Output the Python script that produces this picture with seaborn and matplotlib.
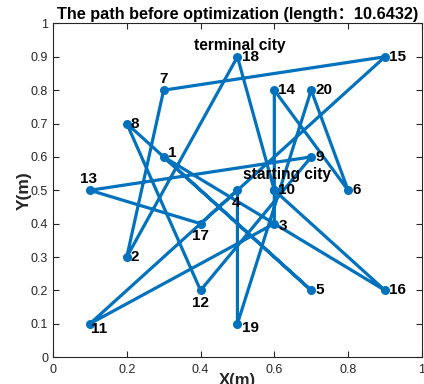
import numpy as np
import pandas as pd
import seaborn as sns
import matplotlib
matplotlib.use("Agg")
import matplotlib.pyplot as plt

# city coordinates (city number = index + 1)
city_x = [0.3, 0.2, 0.6, 0.5, 0.7, 0.8, 0.3, 0.2, 0.7, 0.6,
          0.1, 0.4, 0.1, 0.6, 0.9, 0.9, 0.4, 0.5, 0.5, 0.7]
city_y = [0.6, 0.3, 0.4, 0.5, 0.2, 0.5, 0.8, 0.7, 0.6, 0.5,
          0.1, 0.2, 0.5, 0.8, 0.9, 0.2, 0.4, 0.9, 0.1, 0.8]

# visiting order before optimization (closed tour)
route = [10, 16, 1, 5, 8, 12, 9, 13, 17, 4, 19, 20, 6, 14, 3, 11, 15, 7, 2, 18]
start_city = 10
end_city = 18
path_length = 10.6432

x_ticks = [0, 0.2, 0.4, 0.6, 0.8, 1]
y_ticks = [0, 0.1, 0.2, 0.3, 0.4, 0.5, 0.6, 0.7, 0.8, 0.9, 1]

order = route + [route[0]]
df = pd.DataFrame({
    'step': range(len(order)),
    'x': [city_x[c - 1] for c in order],
    'y': [city_y[c - 1] for c in order],
})

sns.set_style("white")
plt.rcParams['font.family'] = ['Liberation Sans', 'Noto Sans CJK SC']

blue = "#0072BD"
dark = "#262626"

fig = plt.figure(figsize=(4.24, 3.84), dpi=100)
ax = fig.add_axes([0.125, 0.070, 0.870, 0.869])

sns.lineplot(data=df, x='x', y='y', sort=False, estimator=None,
             color=blue, linewidth=2.3, marker='o', markersize=6.5,
             markeredgewidth=0, ax=ax)

# label offsets in points: (dx, dy, ha, va)
default_off = (3, 0, 'left', 'center')
label_off = {
    1: (3, 3, 'left', 'center'),
    3: (3, -2, 'left', 'center'),
    4: (-1, -4, 'center', 'top'),
    7: (0, 3, 'center', 'bottom'),
    11: (1, -4, 'left', 'center'),
    12: (0, -4, 'center', 'top'),
    13: (-1, 3, 'center', 'bottom'),
    17: (0, -4, 'center', 'top'),
    19: (3, -3, 'left', 'center'),
}
for i, (cx, cy) in enumerate(zip(city_x, city_y)):
    n = i + 1
    dx, dy, ha, va = label_off.get(n, default_off)
    ax.annotate(str(n), (cx, cy), xytext=(dx, dy), textcoords='offset points',
                ha=ha, va=va, fontsize=11, fontweight='bold', color='black')

sx, sy = city_x[start_city - 1], city_y[start_city - 1]
ex, ey = city_x[end_city - 1], city_y[end_city - 1]
ax.text(sx + 0.035, sy + 0.047, 'starting city', ha='center', va='center',
        fontsize=11.2, fontweight='bold', color='black')
ax.text(ex + 0.007, ey + 0.035, 'terminal city', ha='center', va='center',
        fontsize=11.2, fontweight='bold', color='black')

ax.set_xlim(0, 1)
ax.set_ylim(0, 1)
ax.set_xticks(x_ticks)
ax.set_xticklabels([f"{t:g}" for t in x_ticks])
ax.set_yticks(y_ticks)
ax.set_yticklabels([f"{t:g}" for t in y_ticks])
ax.tick_params(direction='in', length=4, width=0.8, colors=dark,
               labelsize=9, top=True, right=True, bottom=True, left=True)
ax.tick_params(axis='x', pad=5)
for s in ax.spines.values():
    s.set_visible(True)
    s.set_color(dark)
    s.set_linewidth(0.8)

ax.set_xlabel('X(m)', fontsize=12, fontweight='bold', color=dark, labelpad=-2)
ax.set_ylabel('Y(m)', fontsize=12.5, fontweight='bold', color=dark, labelpad=-1)
ax.set_title(f'The path before optimization (length：{path_length:.4f})',
             fontsize=11.7, fontweight='bold', color='black', pad=3)

fig.savefig('out.png', dpi=100)
